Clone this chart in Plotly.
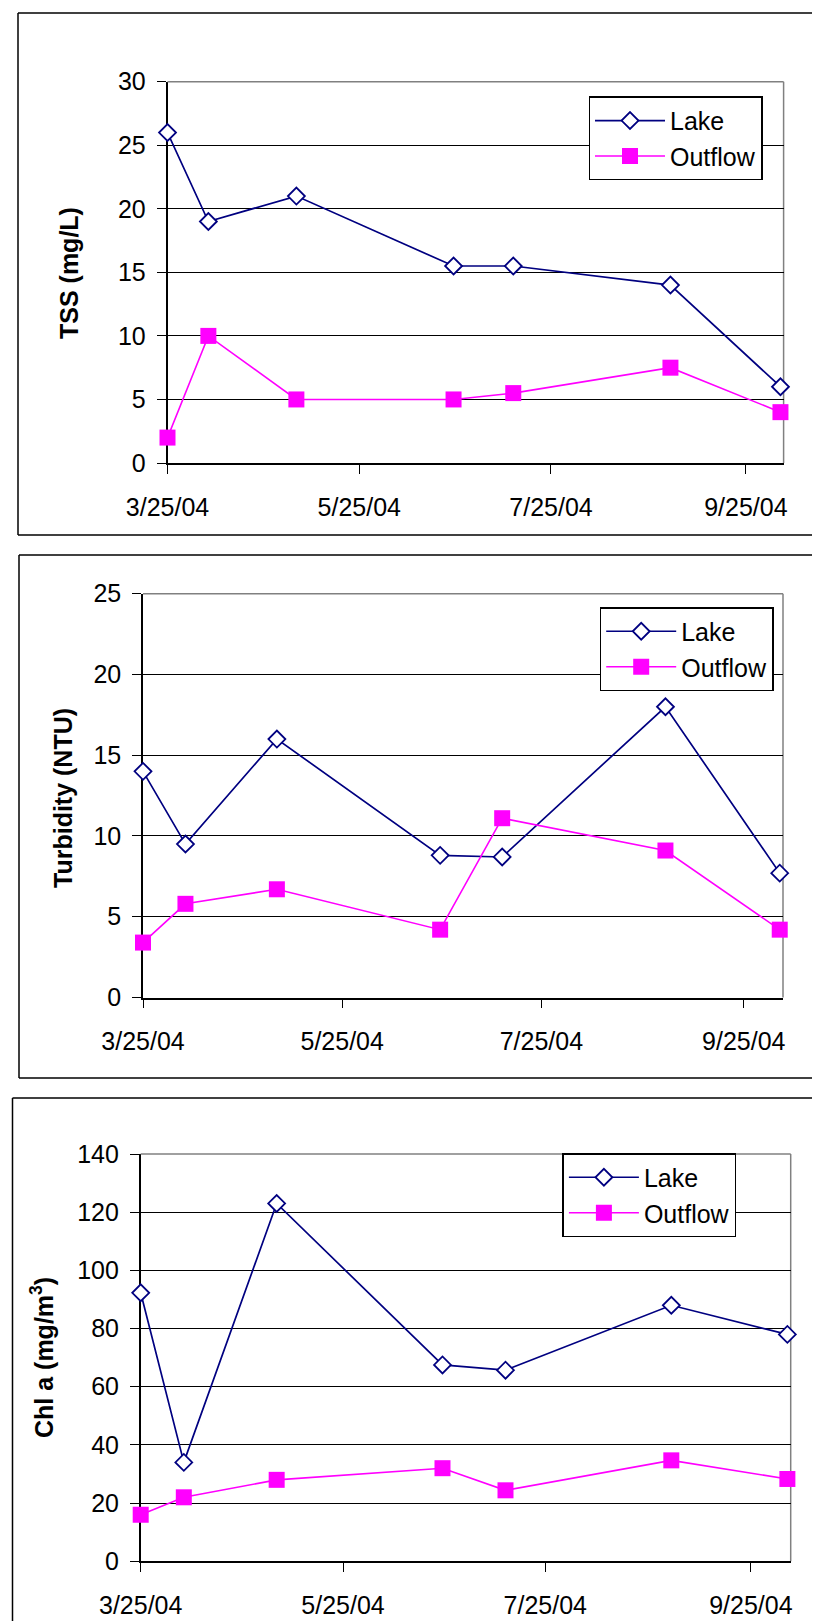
import plotly.graph_objects as go

# ---------------- data ----------------
dates = ["2004-03-25", "2004-04-07", "2004-05-05", "2004-06-24",
         "2004-07-13", "2004-09-01", "2004-10-06"]

tss_lake = [26, 19, 21, 15.5, 15.5, 14, 6]
tss_outflow = [2, 10, 5, 5, 5.5, 7.5, 4]

turb_lake = [14, 9.5, 16, 8.8, 8.7, 18, 7.7]
turb_outflow = [3.4, 5.8, 6.7, 4.2, 11.1, 9.1, 4.2]

chl_lake = [92.3, 34, 123, 67.5, 65.7, 88, 78]
chl_outflow = [16, 22, 28, 32, 24.4, 34.7, 28.3]

x_tickvals = ["2004-03-25", "2004-05-25", "2004-07-25", "2004-09-25"]
x_ticktext = ["3/25/04", "5/25/04", "7/25/04", "9/25/04"]
x_range = ["2004-03-25", "2004-10-07"]

series_names = ["Lake", "Outflow"]
y_titles = ["<b>TSS (mg/L)</b>", "<b>Turbidity (NTU)</b>", "<b>Chl a (mg/m<sup>3</sup>)</b>"]
y_ranges = [[0, 30], [0, 25], [0, 140]]
y_dticks = [5, 5, 20]

# ---------------- layout geometry (pixels) ----------------
W, H = 820, 1621
FONT = "Liberation Sans, Arial, sans-serif"
LAKE_C = "#000080"
OUT_C = "#FF00FF"

# plot areas: (left, right, top, bottom)
areas = [(159.5, 775.6, 73.7, 455.0),
         (135.0, 775.0, 585.7, 989.5),
         (132.7, 782.7, 1146.0, 1553.3)]
# visible panel border segments: (x0, y0, x1, y1) in pixels
border_segs = [
    (10, 5, 820, 5), (10, 5, 10, 527), (10, 527, 820, 527),
    (11, 547, 820, 547), (11, 547, 11, 1070), (11, 1070, 820, 1070),
    (4.5, 1090, 820, 1090), (4.5, 1090, 4.5, 1621),
]
# legend top-left corners
legends_pos = [(580.5, 88.3), (591.7, 599.0), (554.4, 1145.0)]
# y title centers
ytitle_pos = [(61, 265), (55, 790), (34, 1350)]

def px(x):
    return x / W

def py(y):
    return 1 - y / H

fig = go.Figure()

panels = [(tss_lake, tss_outflow), (turb_lake, turb_outflow), (chl_lake, chl_outflow)]
shapes = []
annotations = []
layout_extra = {}

for (x0, y0, x1, y1) in border_segs:
    shapes.append(dict(type="line", xref="paper", yref="paper",
                       x0=px(x0), x1=px(x1), y0=py(y0), y1=py(y1), layer="below",
                       line=dict(color="black", width=1.5)))

for i, (lake, outflow) in enumerate(panels):
    n = "" if i == 0 else str(i + 1)
    xa = "x" + n
    ya = "y" + n
    lg = "legend" + n
    fig.add_trace(go.Scatter(
        x=dates, y=lake, name=series_names[0], mode="lines+markers",
        xaxis=xa, yaxis=ya, legend=lg, cliponaxis=False,
        line=dict(color=LAKE_C, width=1.7),
        marker=dict(symbol="diamond", size=13, color="white",
                    line=dict(color=LAKE_C, width=1.8)),
    ))
    fig.add_trace(go.Scatter(
        x=dates, y=outflow, name=series_names[1], mode="lines+markers",
        xaxis=xa, yaxis=ya, legend=lg, cliponaxis=False,
        line=dict(color=OUT_C, width=1.6),
        marker=dict(symbol="square", size=16, color=OUT_C,
                    line=dict(color=OUT_C, width=0)),
    ))

    l, r, t, b = areas[i]
    layout_extra["xaxis" + n] = dict(
        domain=[px(l), px(r)], anchor=ya, type="date", range=x_range,
        tickvals=x_tickvals, ticktext=x_ticktext,
        showgrid=False, zeroline=False, automargin=False,
        showline=True, linecolor="black", linewidth=1.5,
        ticks="outside", ticklen=9, tickwidth=1.2, tickcolor="black",
        tickfont=dict(family=FONT, size=25, color="black"),
        ticklabelstandoff=12, layer="below traces",
    )
    layout_extra["yaxis" + n] = dict(
        domain=[py(b), py(t)], anchor=xa, range=y_ranges[i], dtick=y_dticks[i],
        showgrid=True, gridcolor="black", gridwidth=1, zeroline=False,
        automargin=False,
        showline=True, linecolor="black", linewidth=1.5,
        ticks="outside", ticklen=9, tickwidth=1.2, tickcolor="black",
        tickfont=dict(family=FONT, size=25, color="black"),
        ticklabelstandoff=6, layer="below traces",
    )
    # plot-area border: grey top (above grid) and right edge
    shapes.append(dict(type="line", xref="paper", yref="paper",
                       x0=px(l), x1=px(r), y0=py(t), y1=py(t), layer="above",
                       line=dict(color="#808080", width=1.5)))
    shapes.append(dict(type="line", xref="paper", yref="paper",
                       x0=px(r), x1=px(r), y0=py(b), y1=py(t), layer="below",
                       line=dict(color="#808080", width=1.5)))
    # y title
    tx, ty = ytitle_pos[i]
    annotations.append(dict(text=y_titles[i], xref="paper", yref="paper",
                            x=px(tx), y=py(ty), showarrow=False, textangle=-90,
                            xanchor="center", yanchor="middle",
                            font=dict(family=FONT, size=25, color="black")))
    lx, ly = legends_pos[i]
    layout_extra[lg] = dict(
        x=px(lx), y=py(ly), xanchor="left", yanchor="top",
        bgcolor="white", bordercolor="black", borderwidth=1.5,
        font=dict(family=FONT, size=25, color="black"),
        itemwidth=70,
    )

fig.update_layout(
    width=W, height=H,
    margin=dict(l=0, r=0, t=0, b=0, pad=0, autoexpand=False),
    paper_bgcolor="white", plot_bgcolor="white",
    showlegend=True, shapes=shapes, annotations=annotations,
    **layout_extra,
)

fig.write_html("out.html")
